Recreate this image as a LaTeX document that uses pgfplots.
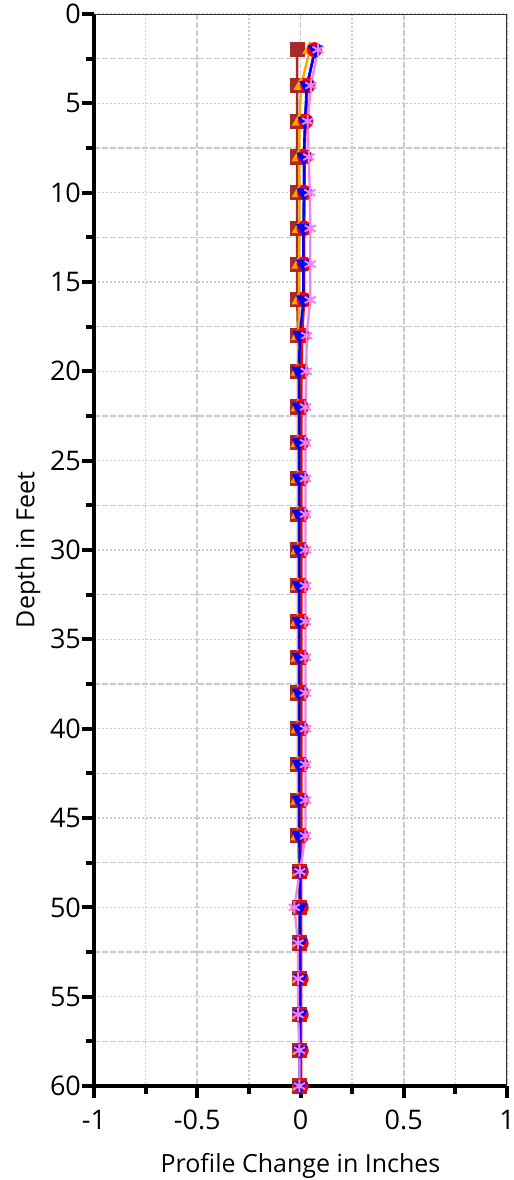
\documentclass[border=0pt]{standalone}
\usepackage{fontspec}
\setmainfont{Open Sans}
\usepackage{pgfplots}
\usepackage{pgfplotstable}
\pgfplotsset{compat=1.18}

\definecolor{cbrown}{HTML}{A52A2A}
\definecolor{corange}{HTML}{FFA500}
\definecolor{cgreen}{HTML}{008000}
\definecolor{cred}{HTML}{FF0000}
\definecolor{cblue}{HTML}{0000FF}
\definecolor{cviolet}{HTML}{EE82EE}
\definecolor{gridgray}{HTML}{CCCCCC}

\pgfplotstableread{
depth brown orange green red blue violet
2  -0.016  0.045  0.070 0.068  0.072  0.085
4  -0.016  0.003  0.032 0.035  0.030  0.050
6  -0.016 -0.005  0.022 0.025  0.022  0.035
8  -0.016 -0.007  0.018 0.020  0.016  0.040
10 -0.016 -0.005  0.018 0.020  0.016  0.045
12 -0.016 -0.005  0.015 0.018  0.014  0.047
14 -0.016 -0.007  0.015 0.018  0.014  0.047
16 -0.016 -0.007  0.015 0.018  0.014  0.047
18 -0.012 -0.010  0.005 0.008 -0.003  0.030
20 -0.012 -0.012  0.000 0.005 -0.008  0.028
22 -0.012 -0.012  0.000 0.005 -0.006  0.024
24 -0.012 -0.012  0.000 0.005 -0.006  0.024
26 -0.012 -0.012  0.000 0.005 -0.006  0.024
28 -0.012 -0.012  0.000 0.005 -0.006  0.024
30 -0.012 -0.012  0.000 0.005 -0.006  0.024
32 -0.012 -0.012  0.000 0.005 -0.006  0.024
34 -0.012 -0.012  0.000 0.005 -0.006  0.024
36 -0.012 -0.012  0.000 0.005 -0.006  0.024
38 -0.012 -0.012  0.000 0.005 -0.006  0.024
40 -0.012 -0.012  0.000 0.005 -0.006  0.024
42 -0.012 -0.012  0.000 0.005 -0.006  0.024
44 -0.012 -0.012  0.000 0.005 -0.006  0.024
46 -0.012 -0.012  0.000 0.005 -0.006  0.024
48 -0.005 -0.005 -0.003 0.003 -0.003 -0.003
50 -0.005 -0.005 -0.003 0.003 -0.003 -0.030
52 -0.005 -0.005 -0.003 0.003 -0.003 -0.012
54 -0.005 -0.005 -0.003 0.003 -0.003 -0.012
56 -0.005 -0.005 -0.003 0.003 -0.003 -0.012
58 -0.005 -0.005 -0.003 0.003 -0.003 -0.005
60 -0.005 -0.005 -0.003 0.003 -0.003 -0.005
}\data

\begin{document}
\begin{tikzpicture}
\begin{axis}[
  name=ax,
  scale only axis,
  width=206.5pt, height=536pt,
  xmin=-1, xmax=1, ymin=0, ymax=60,
  y dir=reverse,
  axis x line*=bottom, axis y line*=left,
  axis line style={line width=2pt},
  tick align=outside,
  major tick length=6pt, minor tick length=4pt,
  every tick/.style={black, line width=2pt},
  xtick={-1,-0.5,0,0.5,1}, minor x tick num=1,
  ytick={0,5,...,60}, minor y tick num=1,
  xticklabels={-1,-0.5,0,0.5,1},
  grid=both,
  major x grid style={gridgray, line width=0.8pt, dash pattern=on 3pt off 1pt},
  minor x grid style={gridgray, line width=0.8pt, dash pattern=on 1pt off 1pt},
  major y grid style={gridgray, line width=0.8pt, dash pattern=on 1pt off 1pt},
  minor y grid style={gridgray, line width=0.8pt, dash pattern=on 3pt off 1pt},
  /pgf/number format/assume math mode=true,
  ticklabel style={font=\fontsize{13.5}{16}\selectfont},
  xticklabel style={yshift=-2.5pt},
  yticklabel style={xshift=3pt},
  label style={font=\fontsize{12.5}{15}\selectfont},
  xlabel style={yshift=-5pt},
  ylabel style={yshift=-2pt},
  xlabel={Profile Change in Inches},
  ylabel={Depth in Feet},
  mark size=3.2pt,
  every axis plot/.append style={line width=1.2pt},
]
\draw[black!80, line width=0.7pt] (axis description cs:0,1) -- (axis description cs:1,1) -- (axis description cs:1,0);
\addplot[cbrown, mark=square*, mark options={fill=cbrown}] table[x=brown, y=depth] {\data};
\addplot[corange, mark=triangle*, mark options={fill=corange}] table[x=orange, y=depth] {\data};
\addplot[cgreen, mark=diamond*, mark size=2.5pt, mark options={fill=cgreen}] table[x=green, y=depth] {\data};
\addplot[cred, mark=*, mark options={fill=cred}] table[x=red, y=depth] {\data};
\addplot[cblue, mark=triangle*, mark options={fill=cblue, rotate=180}] table[x=blue, y=depth] {\data};
\addplot[cviolet, mark=asterisk, mark options={line width=1pt}] table[x=violet, y=depth] {\data};
\end{axis}
\pgfresetboundingbox
\path[use as bounding box] ([shift={(-47pt,-47pt)}]ax.south west) rectangle ([shift={(3pt,7pt)}]ax.north east);
\end{tikzpicture}
\end{document}
